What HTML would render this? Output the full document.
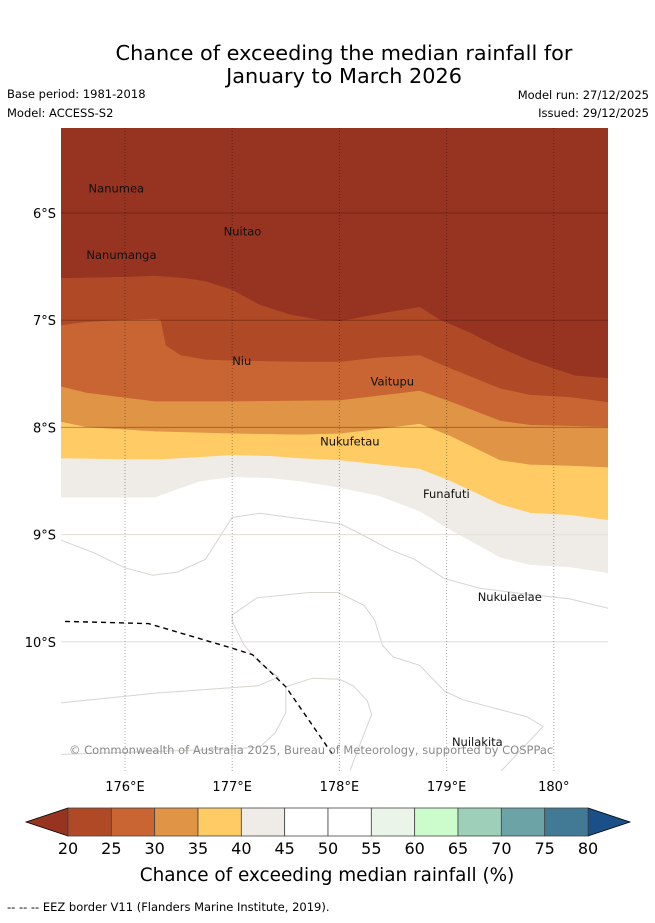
<!DOCTYPE html>
<html><head><meta charset="utf-8">
<style>
html,body{margin:0;padding:0;background:#fff;}
body{width:655px;height:919px;overflow:hidden;font-family:"DejaVu Sans","Liberation Sans",sans-serif;}
svg text{font-family:"DejaVu Sans","Liberation Sans",sans-serif;}
</style></head>
<body>
<svg id="chart" width="655" height="919" viewBox="0 0 655 919" xmlns="http://www.w3.org/2000/svg">
<text x="344" y="60" font-size="20.8" text-anchor="middle" fill="#000">Chance of exceeding the median rainfall for</text>
<text x="344" y="83" font-size="20.8" text-anchor="middle" fill="#000">January to March 2026</text>
<text x="7" y="98" font-size="11.5">Base period: 1981-2018</text>
<text x="7" y="117" font-size="11.5">Model: ACCESS-S2</text>
<text x="649" y="99" font-size="11.5" text-anchor="end">Model run: 27/12/2025</text>
<text x="649" y="117" font-size="11.5" text-anchor="end">Issued: 29/12/2025</text>
<defs><clipPath id="mapclip"><rect x="61" y="128" width="547" height="643"/></clipPath></defs>
<g id="map" clip-path="url(#mapclip)"></g>
<g id="axes"></g>
<g id="cbar"></g>
<text x="327" y="881" font-size="18.4" text-anchor="middle">Chance of exceeding median rainfall (%)</text>
<text x="7" y="911" font-size="11.5">--  --  -- EEZ border V11 (Flanders Marine Institute, 2019).</text>
</svg>
<script>
const NS="http://www.w3.org/2000/svg";
const lonTicks=[176,177,178,179,180];
const lonTickLabels=["176°E","177°E","178°E","179°E","180°"];
const latTicks=[6,7,8,9,10];
const latTickLabels=["6°S","7°S","8°S","9°S","10°S"];
const levels=[20,25,30,35,40,45,50,55,60,65,70,75,80];
const levelColors=["#b04a26","#c96532","#e09446","#fecb65","#efebe6","#ffffff","#ffffff","#eaf4e8","#ccfccc","#9ed0b9","#6ba3a7","#427995"];
const underColor="#973321", overColor="#1a4f88";
const b20=[[175.4,6.61],[176,6.60],[176.28,6.59],[176.56,6.61],[176.75,6.64],[177,6.72],[177.26,6.86],[177.54,6.95],[177.82,7.0],[178.01,7.01],[178.38,6.94],[178.75,6.88],[178.94,7.0],[179.22,7.12],[179.5,7.26],[179.78,7.38],[180.2,7.52],[180.6,7.55]];
const b25=[[175.4,7.05],[175.64,7.02],[176,7.0],[176.28,6.99],[176.33,7.0],[176.38,7.24],[176.52,7.33],[176.75,7.37],[177,7.38],[177.63,7.39],[178.01,7.39],[178.38,7.35],[178.75,7.33],[179.03,7.45],[179.5,7.64],[179.78,7.7],[180.15,7.72],[180.6,7.78]];
const b30=[[175.4,7.62],[175.64,7.68],[176.28,7.76],[177,7.76],[178.01,7.75],[178.75,7.66],[179.03,7.76],[179.5,7.94],[179.78,7.98],[180.6,8.0]];
const b35=[[175.4,7.95],[175.64,8.0],[176.28,8.04],[177,8.06],[177.63,8.07],[178.01,8.06],[178.75,7.97],[179.03,8.08],[179.5,8.31],[179.78,8.35],[180.15,8.36],[180.6,8.38]];
const b40=[[175.4,8.29],[176,8.3],[176.33,8.3],[176.7,8.28],[177,8.26],[177.35,8.27],[177.63,8.29],[178.01,8.31],[178.38,8.35],[178.75,8.39],[179.03,8.5],[179.5,8.72],[179.78,8.8],[180.15,8.82],[180.6,8.88]];
const b45=[[175.4,8.65],[176,8.65],[176.28,8.65],[176.47,8.58],[176.7,8.5],[177,8.46],[177.35,8.47],[177.63,8.5],[178.01,8.56],[178.38,8.64],[178.75,8.78],[179.03,8.95],[179.5,9.21],[179.78,9.28],[180.15,9.3],[180.6,9.37]];
const coastA=[[175.4,9.05],[175.71,9.17],[176,9.31],[176.26,9.38],[176.49,9.35],[176.75,9.23],[177,8.84],[177.26,8.8],[177.54,8.84],[178.01,8.9],[178.19,8.99],[178.47,9.14],[178.7,9.23],[178.98,9.41],[179.31,9.5],[179.78,9.56],[180.15,9.6],[180.6,9.71]];
const coastB=[[175.4,10.57],[176.27,10.48],[177.24,10.41],[177.43,10.33],[177.24,10.18],[177.11,10.03],[177.0,9.81],[177.0,9.75],[177.23,9.59],[177.72,9.54],[177.99,9.54],[178.23,9.66],[178.33,9.8],[178.4,10.03],[178.5,10.14],[178.75,10.22],[178.98,10.46],[179.15,10.54],[179.75,10.7],[179.9,10.79],[179.42,11.3]];
const coastC=[[175.4,11.05],[177.0,11.0],[177.26,10.98],[177.4,10.85],[177.5,10.66],[177.5,10.42],[177.75,10.34],[178.0,10.35],[178.13,10.41],[178.26,10.55],[178.3,10.68],[178.19,10.96],[178.1,11.2]];
const eez=[[175.44,9.81],[176.22,9.83],[177.0,10.06],[177.19,10.12],[177.5,10.42],[177.95,11.07]];
const places=["Nanumea","Nuitao","Nanumanga","Niu","Vaitupu","Nukufetau","Funafuti","Nukulaelae","Nuilakita"];
const placeLon=[175.66,176.92,175.64,177.0,178.29,177.82,178.78,179.29,179.05];
const placeLat=[5.81,6.21,6.43,7.42,7.61,8.17,8.66,9.62,10.97];

const X0=125,PX=107.2,Y0=213;
const xs=lon=>X0+(lon-176)*PX;
const ys=lat=>Y0+(lat-6)*PX;
function mk(tag,attrs,parent){const e=document.createElementNS(NS,tag);for(const k in attrs)e.setAttribute(k,attrs[k]);parent.appendChild(e);return e;}
const pts=a=>a.map(p=>xs(p[0]).toFixed(1)+","+ys(p[1]).toFixed(1)).join(" L");
const map=document.getElementById("map");
let r=mk("rect",{x:61,y:128,width:547,height:643,fill:"#ffffff"},map);


const bands=[[null,b20,underColor],[b20,b25,levelColors[0]],[b25,b30,levelColors[1]],[b30,b35,levelColors[2]],[b35,b40,levelColors[3]],[b40,b45,levelColors[4]]];
bands.forEach((b,i)=>{
  let d;
  const lower=b[1].slice().reverse();
  if(b[0]===null) d="M"+xs(175.4)+","+ys(4)+" L"+xs(180.6)+","+ys(4)+" L"+pts(lower)+" Z";
  else d="M"+pts(b[0])+" L"+pts(lower)+" Z";
  const p=mk("path",{d:d,fill:b[2],stroke:b[2],"stroke-width":0.6},map);
  
  
});
[coastA,coastB,coastC].forEach((c,i)=>{
  const p=mk("path",{d:"M"+pts(c),fill:"none",stroke:"#d8d4cf","stroke-width":1},map);
  
  
});
latTicks.forEach((t,i)=>{
  const l=mk("line",{x1:61,x2:608,y1:ys(t),y2:ys(t),stroke:t>=9?"#e3ded8":"rgba(60,10,0,0.35)","stroke-width":1},map);
  
  
});
lonTicks.forEach((t,i)=>{
  const l=mk("line",{x1:xs(t),x2:xs(t),y1:128,y2:771,stroke:"rgba(0,0,0,0.35)","stroke-width":1,"stroke-dasharray":"1,2"},map);
  
  
});
let e=mk("path",{d:"M"+pts(eez),fill:"none",stroke:"#000","stroke-width":1.4,"stroke-dasharray":"5,4"},map);


places.forEach((n,i)=>{
  const t=mk("text",{x:xs(placeLon[i]),y:ys(placeLat[i]),"font-size":11.5,fill:"#111"},map);
  t.textContent=n;
  
  
});
let c=mk("text",{x:69,y:754,"font-size":11.5,fill:"#8a8a8a"},map);
c.textContent="© Commonwealth of Australia 2025, Bureau of Meteorology, supported by COSPPac";


const axes=document.getElementById("axes");
lonTicks.forEach((t,i)=>{
  const tx=mk("text",{x:xs(t),y:791,"font-size":13,"text-anchor":"middle"},axes);
  tx.textContent=lonTickLabels[i];
  
  
});
latTicks.forEach((t,i)=>{
  const tx=mk("text",{x:56,y:ys(t)+5,"font-size":13,"text-anchor":"end"},axes);
  tx.textContent=latTickLabels[i];
  
  
});
const cb=document.getElementById("cbar");
const CX0=68,CX1=588,CY=808,CH=28;
const cx=v=>CX0+(v-levels[0])/(levels[levels.length-1]-levels[0])*(CX1-CX0);
let ua=mk("polygon",{points:`${CX0},${CY} 26,${CY+CH/2} ${CX0},${CY+CH}`,fill:underColor,stroke:"#000","stroke-width":0.8},cb);


let oa=mk("polygon",{points:`${CX1},${CY} 630,${CY+CH/2} ${CX1},${CY+CH}`,fill:overColor,stroke:"#000","stroke-width":0.8},cb);


levelColors.forEach((col,i)=>{
  const rr=mk("rect",{x:cx(levels[i]),y:CY,width:cx(levels[i+1])-cx(levels[i]),height:CH,fill:col,stroke:"#444","stroke-width":0.8},cb);
  
  
});
levels.forEach(v=>{
  const tx=mk("text",{x:cx(v),y:854,"font-size":16,"text-anchor":"middle"},cb);
  tx.textContent=String(v);
  
  
});
</script>
</body></html>
